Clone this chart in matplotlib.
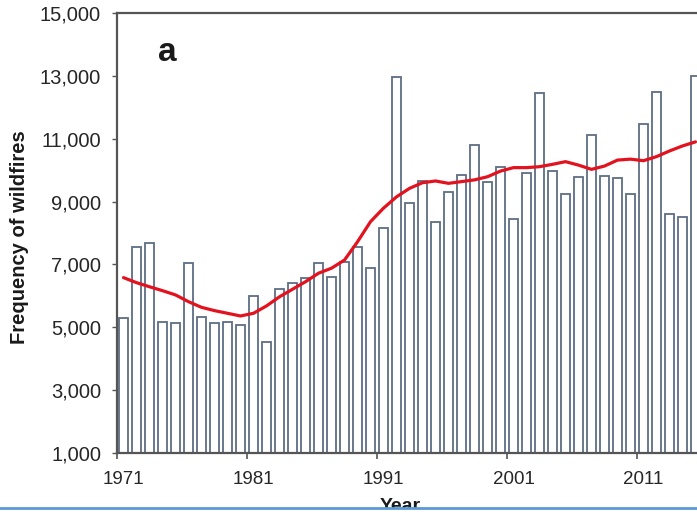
import matplotlib
matplotlib.use("Agg")
import matplotlib.pyplot as plt
from matplotlib.ticker import FuncFormatter, FixedLocator
from matplotlib.patches import Rectangle
from matplotlib.lines import Line2D

plt.rcParams['font.family'] = ['Liberation Sans', 'DejaVu Sans']

years = list(range(1971, 2016))
wildfires = [5300, 7560, 7670, 5180, 5150, 7050, 5320, 5130, 5160, 5080,
             5980, 4520, 6220, 6420, 6580, 7040, 6610, 7090, 7540, 6880,
             8150, 12970, 8960, 9660, 8340, 9310, 9850, 10800, 9610, 10090,
             8440, 9900, 12470, 9970, 9240, 9790, 11120, 9810, 9760, 9240,
             11460, 12480, 8600, 8500, 13000]
trend = [6580, 6420, 6290, 6165, 6030, 5815, 5635, 5530, 5445, 5360,
         5445, 5680, 5970, 6210, 6450, 6720, 6880, 7140, 7720, 8360,
         8790, 9150, 9420, 9600, 9655, 9580, 9635, 9690, 9790, 9970,
         10080, 10080, 10110, 10185, 10270, 10160, 10025, 10130, 10320, 10350,
         10300, 10430, 10610, 10770, 10900]
tick_years = [1971, 1981, 1991, 2001, 2011]
y_ticks = [1000, 3000, 5000, 7000, 9000, 11000, 13000, 15000]

W, H = 697, 512
fig = plt.figure(figsize=(W / 100, H / 100), dpi=100)
ax = fig.add_axes([117 / W, (H - 453) / H, 1 - 117 / W, (453 - 13) / H])

# category positions: each year occupies one unit, bars centred in it
pos = [y - years[0] + 0.5 for y in years]
ax.bar(pos, [v - 1000 for v in wildfires], bottom=1000, width=0.74,
       facecolor='white', edgecolor='#5e6d82', linewidth=1.3, zorder=2)
ax.plot(pos, trend, color='#e3121f', linewidth=2.3, zorder=3,
        solid_capstyle='round', solid_joinstyle='round')

ax.set_ylim(1000, 15000)
ax.set_xlim(0, (W - 117) / 13)
ax.set_yticks(y_ticks)
ax.yaxis.set_major_formatter(FuncFormatter(lambda v, p: f"{int(v):,}"))

# labels sit under the bar centres, tick marks on the category boundaries
ax.set_xticks([y - years[0] + 0.5 for y in tick_years])
ax.set_xticklabels([str(y) for y in tick_years])
ax.xaxis.set_minor_locator(FixedLocator([y - years[0] for y in tick_years]))
ax.tick_params(axis='x', which='major', length=0, pad=13, labelsize=13.5,
               labelcolor='#262626')
ax.tick_params(axis='x', which='minor', length=4, width=1.2, color='#555555',
               direction='out')
ax.tick_params(axis='y', length=3.5, width=1.0, color='#555555', pad=8,
               labelsize=14.5, labelcolor='#262626')

for side in ('left', 'top', 'bottom'):
    ax.spines[side].set_color('#555555')
    ax.spines[side].set_linewidth(1.6)
ax.spines['right'].set_visible(False)

ax.text(0.086, 0.892, 'a', transform=ax.transAxes, fontsize=24,
        fontweight='bold', ha='center', va='baseline', color='#1a1a1a')

fig.text(20 / W, (H - 237) / H, 'Frequency of wildfires', rotation=90,
         ha='center', va='center', fontsize=14.5, fontweight='bold',
         color='#1a1a1a')
fig.text(400 / W, (H - 512) / H + 0.001, 'Year', ha='center', va='baseline',
         fontsize=14, fontweight='bold', color='#1a1a1a')

# strip along the lower edge
fig.add_artist(Rectangle((0, 0), 1, 4 / H, transform=fig.transFigure,
                         facecolor='white', edgecolor='none', zorder=10))
fig.add_artist(Line2D([0, 1], [(H - 508) / H] * 2, transform=fig.transFigure,
                      color='#5b9bd5', linewidth=2.0, zorder=11))

fig.savefig('out.png', dpi=100)
